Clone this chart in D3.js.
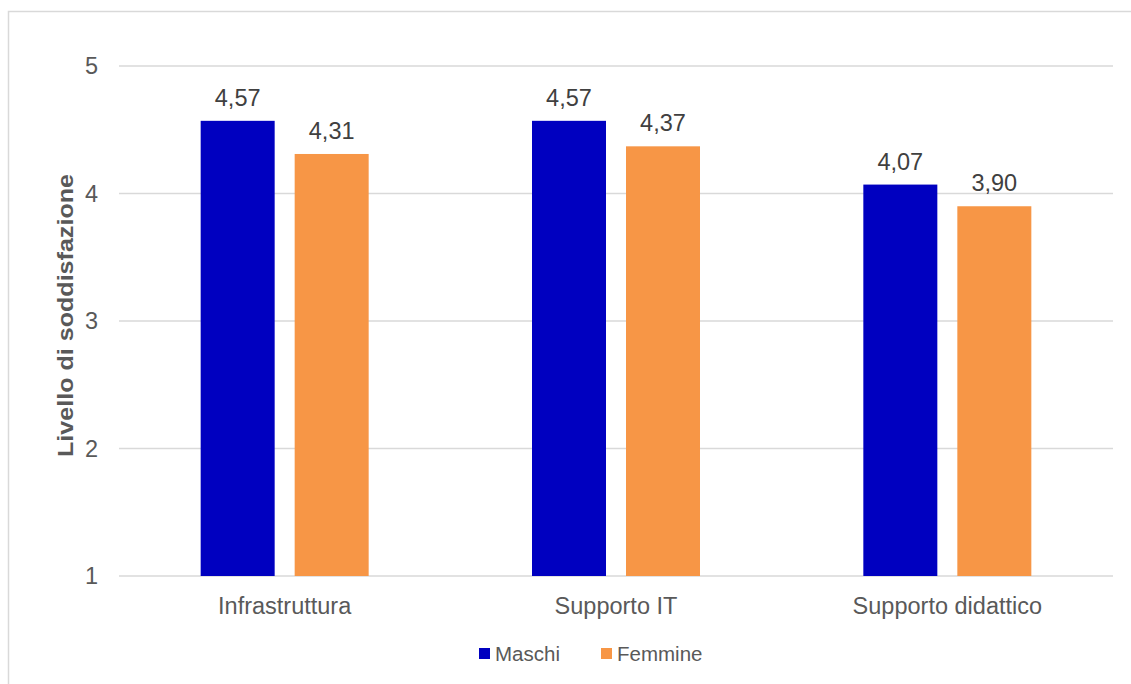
<!DOCTYPE html>
<html>
<head>
<meta charset="utf-8">
<script src="https://cdn.jsdelivr.net/npm/d3@7"></script>
<style>
  html, body { margin: 0; padding: 0; background: #fff; }
  svg { display: block; font-family: "Liberation Sans", Arial, sans-serif; }
</style>
</head>
<body>
<svg id="chart" width="1131" height="684"></svg>
<script>
// Satisfaction level by area, split by gender
const categories = ["Infrastruttura", "Supporto IT", "Supporto didattico"];
const seriesNames = ["Maschi", "Femmine"];
const maschi = [4.57, 4.57, 4.07];
const femmine = [4.31, 4.37, 3.90];
const yTicks = [1, 2, 3, 4, 5];
const yTitle = "Livello di soddisfazione";

const colors = { Maschi: "#0000C0", Femmine: "#F79646" };

const svg = d3.select("#chart");
const W = 1131, H = 684;

// outer chart frame
svg.append("rect")
  .attr("x", 8.5).attr("y", 11.5)
  .attr("width", W).attr("height", H)
  .attr("fill", "#fff")
  .attr("stroke", "#D9D9D9").attr("stroke-width", 1.5);

const plot = { left: 119, right: 1113, top: 66, bottom: 576 };

const x0 = d3.scaleBand().domain(categories)
  .range([plot.left, plot.right]).paddingInner(0).paddingOuter(0);

const barW = 74, gap = 20;
const groupW = barW * 2 + gap;
const x1 = d3.scaleBand().domain(seriesNames)
  .range([(x0.bandwidth() - groupW) / 2, (x0.bandwidth() + groupW) / 2])
  .paddingInner(gap / (barW + gap)).paddingOuter(0);

const y = d3.scaleLinear().domain([1, 5]).range([plot.bottom, plot.top]);

// horizontal gridlines
svg.append("g")
  .selectAll("line")
  .data(yTicks)
  .join("line")
  .attr("x1", plot.left).attr("x2", plot.right)
  .attr("y1", d => y(d)).attr("y2", d => y(d))
  .attr("stroke", "#D9D9D9").attr("stroke-width", 1.5);

// y tick labels
const fmt = v => d3.format(".2f")(v).replace(".", ",");
svg.append("g")
  .selectAll("text")
  .data(yTicks)
  .join("text")
  .attr("x", plot.left - 21)
  .attr("y", d => y(d))
  .attr("dy", "0.36em")
  .attr("text-anchor", "end")
  .attr("font-size", 23.5)
  .attr("fill", "#595959")
  .text(d => d);

// y axis title
svg.append("text")
  .attr("transform", `translate(72.5, 315.5) rotate(-90)`)
  .attr("text-anchor", "middle")
  .attr("font-size", 22)
  .attr("font-weight", "bold")
  .attr("fill", "#595959")
  .attr("textLength", 283)
  .attr("lengthAdjust", "spacingAndGlyphs")
  .text(yTitle);

// bars
const rows = categories.map((c, i) => ({
  cat: c,
  vals: [{ s: "Maschi", v: maschi[i] }, { s: "Femmine", v: femmine[i] }]
}));

const groups = svg.append("g")
  .selectAll("g")
  .data(rows)
  .join("g")
  .attr("transform", d => `translate(${x0(d.cat)},0)`);

groups.selectAll("rect")
  .data(d => d.vals)
  .join("rect")
  .attr("x", d => x1(d.s))
  .attr("width", x1.bandwidth())
  .attr("y", d => y(d.v))
  .attr("height", d => y(1) - y(d.v))
  .attr("fill", d => colors[d.s]);

groups.selectAll("text")
  .data(d => d.vals)
  .join("text")
  .attr("x", d => x1(d.s) + x1.bandwidth() / 2)
  .attr("y", d => y(d.v) - 15)
  .attr("text-anchor", "middle")
  .attr("font-size", 23.5)
  .attr("fill", "#404040")
  .text(d => fmt(d.v));

// category labels
svg.append("g")
  .selectAll("text")
  .data(categories)
  .join("text")
  .attr("x", d => x0(d) + x0.bandwidth() / 2)
  .attr("y", plot.bottom + 38)
  .attr("text-anchor", "middle")
  .attr("font-size", 23.5)
  .attr("fill", "#595959")
  .text(d => d);

// legend
const legendX = [479, 601];
const legend = svg.append("g")
  .selectAll("g")
  .data(seriesNames)
  .join("g")
  .attr("transform", (d, i) => `translate(${legendX[i]}, 648)`);
legend.append("rect")
  .attr("width", 11).attr("height", 11)
  .attr("fill", d => colors[d]);
legend.append("text")
  .attr("x", 16).attr("y", 13)
  .attr("font-size", 20.5)
  .attr("fill", "#595959")
  .text(d => d);
</script>
</body>
</html>
